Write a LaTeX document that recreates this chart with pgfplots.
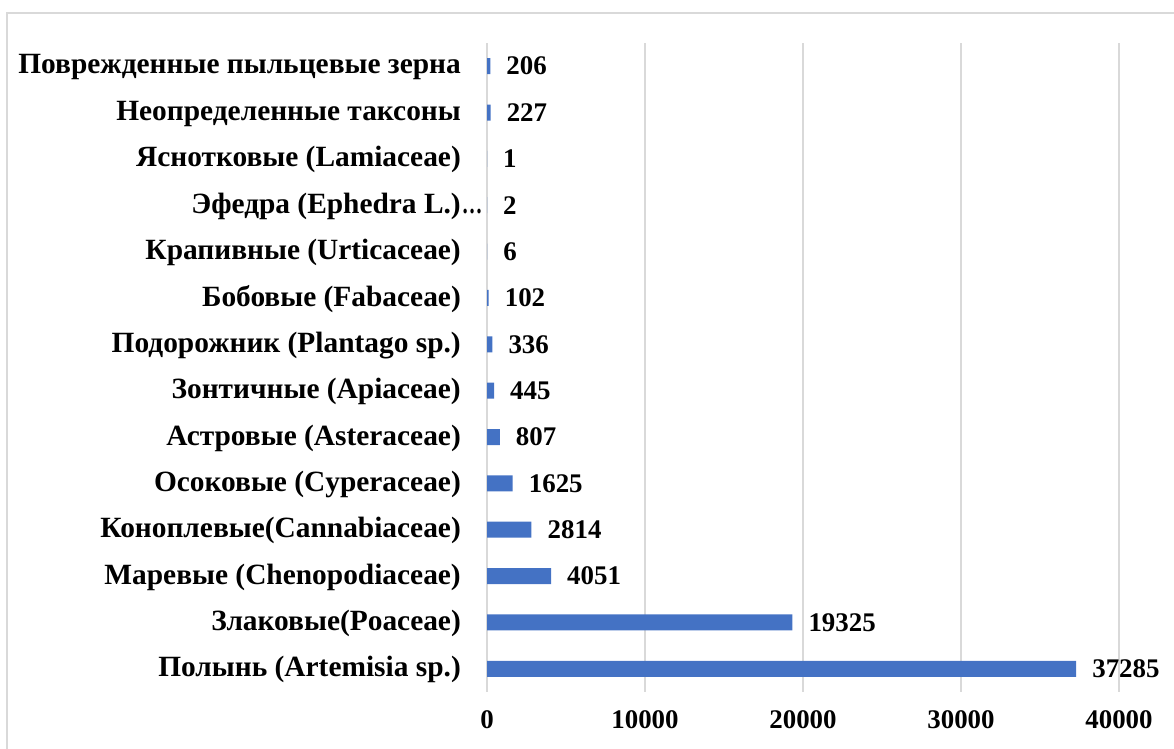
\documentclass[border=0pt]{standalone}
\usepackage{pgfplots}
\pgfplotsset{compat=1.18}
\usepackage{fontspec}
\setmainfont{Liberation Serif}
\definecolor{barblue}{HTML}{4472C4}
\definecolor{gridgray}{HTML}{D9D9D9}
\begin{document}
\begin{tikzpicture}[x=1bp,y=1bp]
\path[use as bounding box] (0,0) rectangle (1174,749);
\draw[gridgray, line width=1.5bp] (7,-5) -- (7,736) -- (1180,736);
\begin{axis}[
  at={(487bp,57bp)}, anchor=south west,
  width=632bp, height=649bp, scale only axis,
  xbar, bar width=16bp,
  xmin=0, xmax=40000,
  ymin=-0.5, ymax=13.5,
  ytick={0,...,13},
  yticklabels={
    {Полынь (Artemisia sp.)},
    {Злаковые(Poaceae)},
    {Маревые (Chenopodiaceae)},
    {Коноплевые(Cannabiaceae)},
    {Осоковые (Cyperaceae)},
    {Астровые (Asteraceae)},
    {Зонтичные (Apiaceae)},
    {Подорожник (Plantago sp.)},
    {Бобовые (Fabaceae)},
    {Крапивные (Urticaceae)},
    {Эфедра (Ephedra L.)\rlap{\kern1bp\scalebox{0.7}[1]{…}}},
    {Яснотковые (Lamiaceae)},
    {Неопределенные таксоны},
    {Поврежденные пыльцевые зерна}},
  xtick={0,10000,20000,30000,40000},
  scaled x ticks=false,
  /pgf/number format/1000 sep={},
  /pgf/number format/assume math mode=true,
  axis line style={draw=none},
  tick style={draw=none},
  major tick length=0pt,
  xmajorgrids,
  grid style={gridgray, line width=1.5bp},
  yticklabel style={font=\fontsize{29.5}{32}\selectfont\bfseries, inner sep=0pt, xshift=-26bp, yshift=-1bp},
  xticklabel style={font=\fontsize{27}{30}\selectfont\bfseries, inner sep=0pt, anchor=north, yshift=-18bp},
  nodes near coords,
  every node near coord/.append style={font=\fontsize{27}{30}\selectfont\bfseries, anchor=west, inner sep=0pt, xshift=16bp, text=black},
  clip=false,
]
\addplot[draw=none, fill=barblue] coordinates {
  (37285,0) (19325,1) (4051,2) (2814,3) (1625,4) (807,5) (445,6)
  (336,7) (102,8) (6,9) (2,10) (1,11) (227,12) (206,13)
};
\end{axis}
\end{tikzpicture}
\end{document}
